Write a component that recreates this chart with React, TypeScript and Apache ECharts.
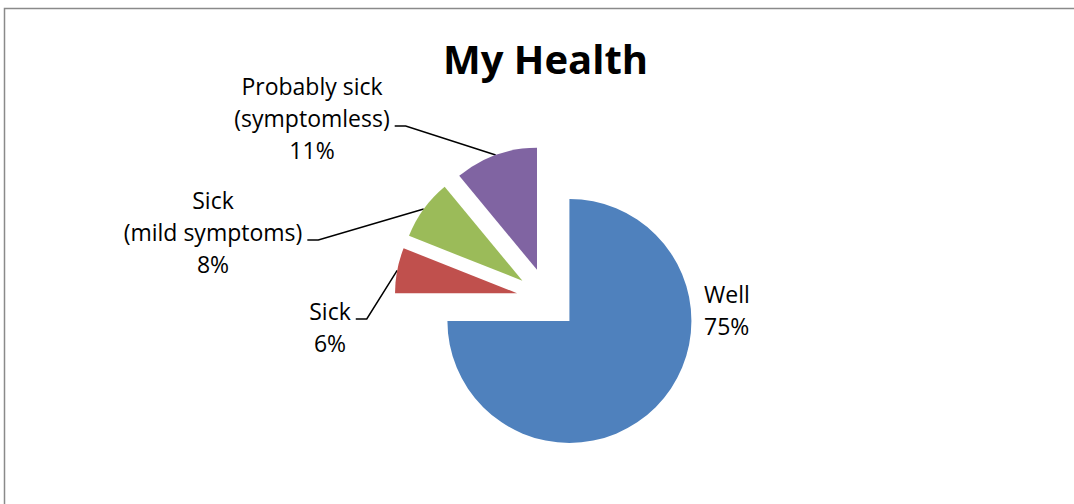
import React, { useEffect, useRef } from "react";
import * as echarts from "echarts";

const categories = ["Well", "Sick", "Sick\n(mild symptoms)", "Probably sick\n(symptomless)"];
const values = [75, 6, 8, 11];
const colors = ["#4F81BD", "#C0504D", "#9BBB59", "#8064A2"];
const titleText = "My Health";

const pieCenter = [547.5, 299];
const pieRadius = 122;
const explode = 31;

// label text anchor, and the vertical offset (from label centre) where the leader line attaches
const labelPlacement = [
  { x: 704, y: 310, align: "left", lineDy: 0 },
  { x: 330, y: 327, align: "center", lineDy: -8 },
  { x: 213, y: 232, align: "center", lineDy: 8 },
  { x: 312, y: 118, align: "center", lineDy: 8 },
];

export default function App() {
  const ref = useRef<HTMLDivElement>(null);
  useEffect(() => {
    if (!ref.current) return;
    const chart = echarts.init(ref.current, undefined, { renderer: "svg" });
    const font = "'Open Sans', sans-serif";
    const total = values.reduce((a, b) => a + b, 0);
    let acc = 0;
    const series = values.map((v, i) => {
      const mid = ((acc + v / 2) / total) * Math.PI * 2;
      acc += v;
      const center = [pieCenter[0] + explode * Math.sin(mid), pieCenter[1] - explode * Math.cos(mid)];
      const outer = [center[0] + pieRadius * Math.sin(mid), center[1] - pieRadius * Math.cos(mid)];
      return {
        type: "pie",
        center,
        radius: [0, pieRadius],
        startAngle: 90,
        clockwise: true,
        percentPrecision: 0,
        avoidLabelOverlap: false,
        emphasis: { disabled: true, scale: false },
        itemStyle: { borderWidth: 0 },
        label: {
          show: true,
          formatter: "{b}\n{d}%",
          fontFamily: font,
          fontSize: 23,
          lineHeight: 32,
          color: "#000",
        },
        labelLine: {
          show: true,
          length: 10,
          length2: 10,
          lineStyle: { color: "#000", width: 1.5 },
        },
        labelLayout: (params: any) => {
          const p = labelPlacement[params.dataIndex];
          const res: any = { x: p.x, y: p.y, align: p.align, verticalAlign: "middle" };
          if (params.dataIndex === i && i !== 0) {
            const endX = p.x + params.labelRect.width / 2 + 5;
            const endY = p.y + p.lineDy;
            res.labelLinePoints = [outer, [endX + 11, endY], [endX, endY]];
          }
          return res;
        },
        data: categories.map((name, j) => ({
          name,
          value: values[j],
          itemStyle: { color: j === i ? colors[j] : "rgba(0,0,0,0)" },
          label: { show: j === i, align: labelPlacement[j].align },
          labelLine: { show: j === i && j !== 0 },
        })),
      };
    });
    chart.setOption({
      animation: false,
      backgroundColor: "#ffffff",
      title: {
        text: titleText,
        left: 438,
        top: 33,
        textStyle: { fontFamily: font, fontSize: 40, fontWeight: "bold", color: "#000" },
      },
      graphic: [
        {
          type: "rect",
          shape: { x: 4.5, y: 8.5, width: 1200, height: 700 },
          style: { fill: "none", stroke: "#8a8a8a", lineWidth: 1.5 },
          silent: true,
        },
      ],
      series,
    });
    return () => chart.dispose();
  }, []);
  return (
    <div
      ref={ref}
      style={{ position: "fixed", left: 0, top: 0, width: 1074, height: 504 }}
    />
  );
}
